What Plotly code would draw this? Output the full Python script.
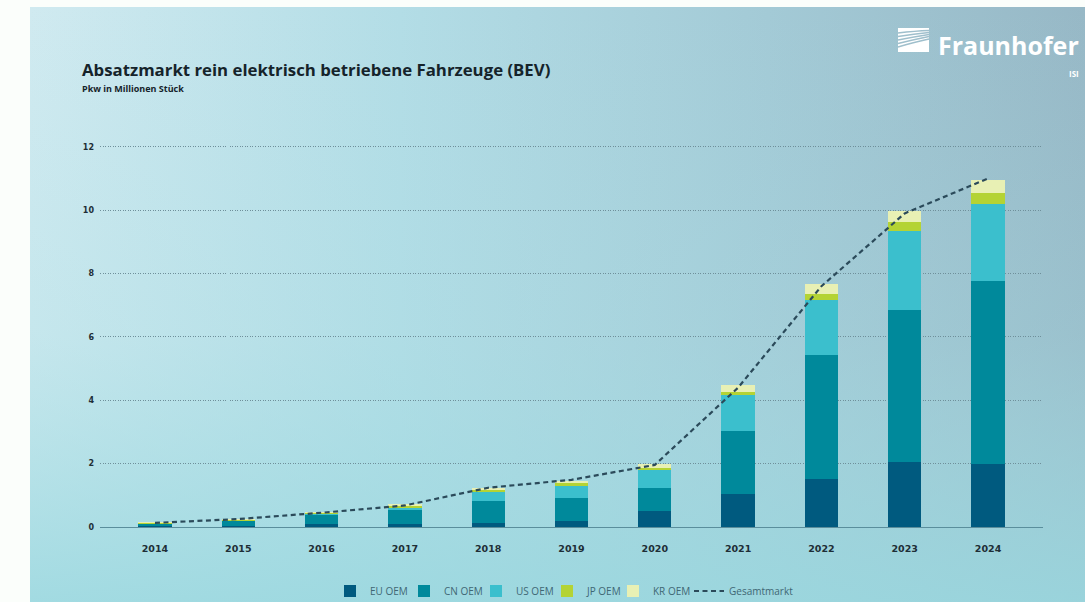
import base64
import plotly.graph_objects as go

years = ["2014", "2015", "2016", "2017", "2018", "2019", "2020", "2021", "2022", "2023", "2024"]
eu_oem = [0.05, 0.03, 0.08, 0.10, 0.12, 0.18, 0.50, 1.03, 1.53, 2.05, 1.99]
cn_oem = [0.05, 0.17, 0.30, 0.43, 0.70, 0.74, 0.74, 2.00, 3.91, 4.81, 5.79]
us_oem = [0.01, 0.02, 0.04, 0.09, 0.28, 0.38, 0.56, 1.14, 1.74, 2.49, 2.42]
jp_oem = [0.03, 0.01, 0.03, 0.05, 0.08, 0.08, 0.07, 0.10, 0.16, 0.27, 0.35]
kr_oem = [0.01, 0.01, 0.02, 0.03, 0.06, 0.08, 0.11, 0.21, 0.32, 0.35, 0.39]
gesamtmarkt = [0.13, 0.25, 0.45, 0.68, 1.24, 1.49, 1.96, 4.40, 7.60, 9.90, 11.00]
y_ticks = [0, 2, 4, 6, 8, 10, 12]

W, H = 1085, 602
L, R, T, B = 100, 42, 131, 75
pw, ph = W - L - R, H - T - B

svg = f'''<svg xmlns="http://www.w3.org/2000/svg" width="{W}" height="{H}" viewBox="0 0 {W} {H}" preserveAspectRatio="none">
<defs>
<linearGradient id="h" x1="0" y1="0" x2="1" y2="0">
<stop offset="0" stop-color="#d0eaf0"/>
<stop offset="0.35" stop-color="#b3dde6"/>
<stop offset="0.7" stop-color="#a3cad6"/>
<stop offset="1" stop-color="#97b8c6"/>
</linearGradient>
<linearGradient id="v" x1="0" y1="0" x2="0" y2="1">
<stop offset="0" stop-color="#a6dde3" stop-opacity="0"/>
<stop offset="0.55" stop-color="#a6dde3" stop-opacity="0.25"/>
<stop offset="1" stop-color="#9ad8df" stop-opacity="0.85"/>
</linearGradient>
</defs>
<rect x="0" y="0" width="{W}" height="{H}" fill="#fbfefb"/>
<rect x="30" y="7" width="{W-30}" height="{H-7}" fill="url(#h)"/>
<rect x="30" y="7" width="{W-30}" height="{H-7}" fill="url(#v)"/>
<rect x="898" y="28" width="31" height="24" fill="#ffffff"/>
<g fill="none" stroke="#9fbfcc" stroke-width="1.5">
<path d="M898 33 Q915 31 929 30.5"/>
<path d="M898 36.5 Q914 34 929 32.5"/>
<path d="M898 40 Q913 37 929 34.5"/>
<path d="M898 43.5 Q912 40 929 36.5"/>
<path d="M898 47 Q911 43 929 39"/>
</g>
</svg>'''
src = "data:image/svg+xml;base64," + base64.b64encode(svg.encode()).decode()

fig = go.Figure()
series = [
    ("EU OEM", eu_oem, "#005a7f", 330),
    ("CN OEM", cn_oem, "#00899b", 404),
    ("US OEM", us_oem, "#3bbfcd", 476),
    ("JP OEM", jp_oem, "#b4d334", 547),
    ("KR OEM", kr_oem, "#e8f0b4", 613),
]
legend_y = (T + ph - 591) / ph
legend_font = dict(size=10, color="#3f6774", family="Open Sans")
legends = {}
for i, (name, vals, col, lx) in enumerate(series):
    key = "legend" if i == 0 else f"legend{i + 1}"
    fig.add_trace(go.Bar(x=years, y=vals, name=name, legend=key,
                         marker=dict(color=col, line=dict(width=0))))
    legends[key] = dict(orientation="h", x=(lx - L) / pw, xanchor="left", y=legend_y, yanchor="middle",
                        font=legend_font, itemwidth=30, bgcolor="rgba(0,0,0,0)")

fig.add_trace(go.Scatter(x=years, y=gesamtmarkt, name="Gesamtmarkt", mode="lines", legend="legend6",
                         line=dict(color="#2b4a5a", width=2.2, dash="5px,3.5px")))
legends["legend6"] = dict(orientation="h", x=(689 - L) / pw, xanchor="left", y=legend_y, yanchor="middle",
                          font=legend_font, itemwidth=30, bgcolor="rgba(0,0,0,0)")

fig.update_layout(
    width=W, height=H,
    margin=dict(l=L, r=R, t=T, b=B, pad=0, autoexpand=False),
    barmode="stack", bargap=0.6,
    paper_bgcolor="rgba(0,0,0,0)", plot_bgcolor="rgba(0,0,0,0)",
    font=dict(family="Open Sans", color="#1e2e36"),
    showlegend=True,
    xaxis=dict(type="category", range=[-0.66, 10.66], showgrid=False, showline=True,
               linecolor="#5a8e9c", linewidth=1.2, ticks="", ticklabelstandoff=12,
               tickfont=dict(size=9.5, family="DejaVu Sans", weight="bold", color="#1e2e36"), zeroline=False),
    yaxis=dict(range=[0, 12.5], tickvals=y_ticks, showgrid=True, gridcolor="#6f8f9a", griddash="1px,1.5px",
               gridwidth=1, zeroline=False, showline=False, ticks="", ticklabelstandoff=5,
               tickfont=dict(size=8, family="DejaVu Sans", weight="bold", color="#1e2e36")),
    images=[dict(source=src, xref="paper", yref="paper", x=-L / pw, y=1 + T / ph,
                 sizex=W / pw, sizey=H / ph, xanchor="left", yanchor="top",
                 sizing="stretch", layer="below")],
    annotations=[
        dict(text="<b>Absatzmarkt rein elektrisch betriebene Fahrzeuge (BEV)</b>", xref="paper", yref="paper",
             x=(80 - L) / pw, y=1 + (T - 69) / ph, xanchor="left", yanchor="middle", showarrow=False,
             font=dict(size=16.8, family="Open Sans", color="#15232a")),
        dict(text="<b>Pkw in Millionen Stück</b>", xref="paper", yref="paper",
             x=(80 - L) / pw, y=1 + (T - 88) / ph, xanchor="left", yanchor="middle", showarrow=False,
             font=dict(size=9, family="Open Sans", color="#15232a")),
        dict(text="<b>Fraunhofer</b>", xref="paper", yref="paper",
             x=(1081 - L) / pw, y=1 + (T - 45) / ph, xanchor="right", yanchor="middle", showarrow=False,
             font=dict(size=25, family="Open Sans", color="#ffffff")),
        dict(text="<b>ISI</b>", xref="paper", yref="paper",
             x=(1081 - L) / pw, y=1 + (T - 73) / ph, xanchor="right", yanchor="middle", showarrow=False,
             font=dict(size=8, family="Open Sans", color="#ffffff")),
    ],
)
fig.update_layout(**legends)

fig.write_html("out.html", config={"displayModeBar": False},
               post_script="document.body.style.margin='0';document.body.style.overflow='hidden';")
